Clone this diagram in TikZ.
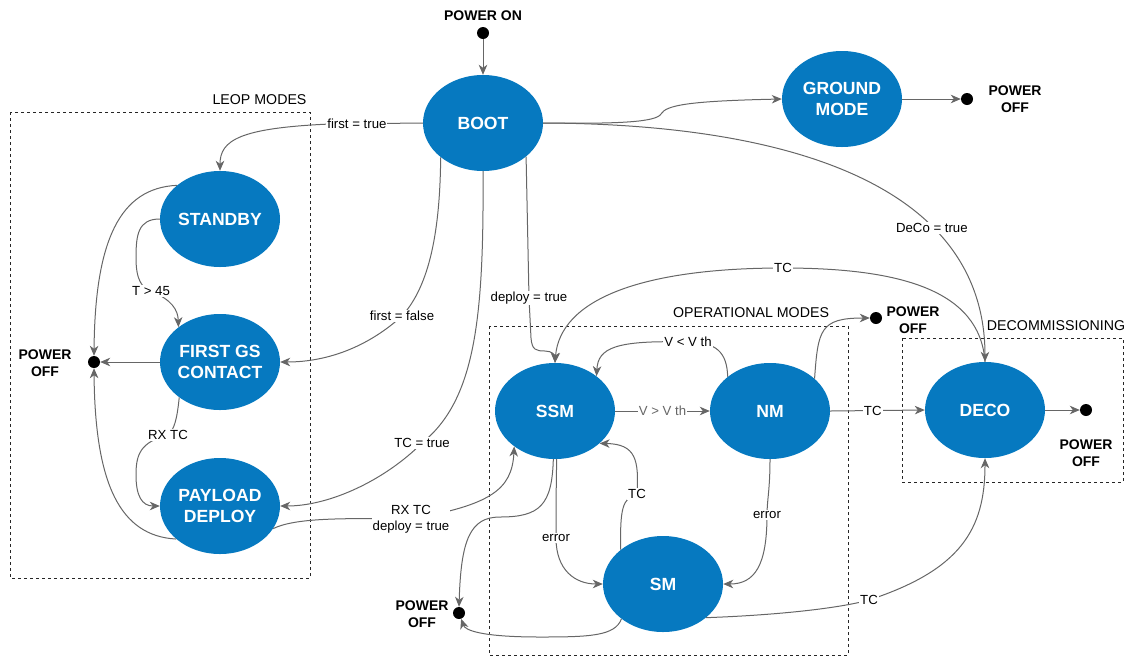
\documentclass[tikz,border=0pt]{standalone}
\usepackage{fontspec}
\setmainfont{Liberation Sans}
\usetikzlibrary{shapes.geometric,arrows.meta}
\definecolor{modeblue}{HTML}{0679C0}
\definecolor{wire}{HTML}{666666}
\begin{document}
\begin{tikzpicture}[x=1pt,y=-1pt,
  mode/.style={ellipse, fill=modeblue, minimum width=120pt, minimum height=96pt,
    inner sep=0pt, text=white, align=center,
    font=\fontsize{17.6}{21}\selectfont\bfseries},
  dot/.style={circle, fill=black, minimum size=12pt, inner sep=0pt},
  plabel/.style={font=\fontsize{14}{16.5}\selectfont\bfseries, align=center},
  group/.style={draw=black!85, dash pattern=on 3pt off 3pt, line width=1pt},
  glabel/.style={font=\fontsize{14.2}{16}\selectfont},
  edge/.style={draw=wire, line width=1pt,
    -{Stealth[length=10pt,width=8.5pt,inset=3pt]}},
  lbl/.style={font=\fontsize{13.2}{15.5}\selectfont, fill=white, inner sep=1pt,
    align=center, text=black},
]
\useasboundingbox (0,0) rectangle (1129,657);

% mode groups
\draw[group] (10,112) rectangle (310,578);
\node[glabel, anchor=east] (leoplbl) at (310,100) {LEOP MODES};
\draw[group] (489,326) rectangle (848,655);
\node[glabel] (oplbl) at (751,313) {OPERATIONAL MODES};
\draw[group] (902,338) rectangle (1123,482);
\node[glabel] (decolbl) at (1056,326) {DECOMMISSIONING};

% states
\node[mode] (boot)    at (483,123) {BOOT};
\node[mode] (ground)  at (842,99)  {GROUND\\MODE};
\node[mode] (standby) at (220,219) {STANDBY};
\node[mode] (firstgs) at (220,362) {FIRST GS\\CONTACT};
\node[mode] (payload) at (220,506) {PAYLOAD\\DEPLOY};
\node[mode] (ssm)     at (555,411) {SSM};
\node[mode] (nm)      at (770,411) {NM};
\node[mode] (sm)      at (663,584) {SM};
\node[mode] (deco)    at (985,410) {DECO};

% pseudo states
\node[dot] (poweron) at (483,33) {};
\node[plabel] (poweronlbl) at (483,16) {POWER ON};
\node[dot] (poff1) at (967,99) {};
\node[plabel] (poff1lbl) at (1015,99) {POWER\\OFF};
\node[dot] (poff2) at (94,362) {};
\node[plabel] (poff2lbl) at (45,363) {POWER\\OFF};
\node[dot] (poff3) at (876,318) {};
\node[plabel] (poff3lbl) at (913,320) {POWER\\OFF};
\node[dot] (poff4) at (1086,410) {};
\node[plabel] (poff4lbl) at (1086,453) {POWER\\OFF};
\node[dot] (poff5) at (459,613) {};
\node[plabel] (poff5lbl) at (422,614) {POWER\\OFF};

% start-up
\draw[edge] (poweron) -- (boot.north);
\draw[edge] (boot.east) .. controls (620,124) and (656,122) .. (661,114)
  .. controls (666,105) and (690,101) .. (ground.west);
\draw[edge] (ground.east) -- (poff1.west);

% boot decisions
\draw[edge] (boot.west) -- node[lbl, pos=0.71]{first = true} (330,124)
  .. controls (240,128) and (220,140) .. (standby.north);
\draw[edge] (boot.219) .. controls (440,230) and (430,285) .. (402,316)
  node[lbl]{first = false}
  .. controls (370,345) and (330,362) .. (firstgs.east);
\draw[edge] (boot.south) .. controls (484,320) and (475,400) .. (422,443)
  node[lbl]{TC = true}
  .. controls (385,480) and (330,506) .. (payload.east);
\draw[edge] (boot.322) -- (529,298) node[lbl]{deploy = true} -- (531,338)
  .. controls (532,350) and (536,351) .. (545,351)
  .. controls (552,351) and (555,355) .. (ssm.north);
\draw[edge] (boot.east) .. controls (800,124) and (985,190) .. (deco.north)
  node[lbl, pos=0.68]{DeCo = true};

% LEOP modes
\draw[edge] (standby.west) .. controls (138,219) and (136,235) .. (136,258)
  .. controls (136,280) and (142,288) .. (151,291) node[lbl]{T > 45}
  .. controls (172,300) and (178,310) .. (firstgs.140);
\draw[edge] (firstgs.221) .. controls (177,420) and (174,430) .. (168,435)
  node[lbl]{RX TC}
  .. controls (140,442) and (136,455) .. (136,475)
  .. controls (136,496) and (142,506) .. (payload.west);
\draw[edge] (standby.142) .. controls (120,188) and (95,240) .. (poff2.north);
\draw[edge] (payload.217) .. controls (120,536) and (95,484) .. (poff2.south);
\draw[edge] (firstgs.west) -- (poff2.east);
\draw[edge] (payload.337) .. controls (295,518) and (340,518) .. (411,519)
  node[lbl]{RX TC\\deploy = true}
  .. controls (490,505) and (512,490) .. (ssm.221);

% operational modes
\draw[edge] (ssm.east) -- node[lbl, text=wire]{V > V th} (nm.west);
\draw[edge] (nm.141) .. controls (727,352) and (716,342) .. (688,342)
  node[lbl]{V < V th}
  .. controls (615,340) and (598,348) .. (ssm.40);
\draw[edge] (nm.36) .. controls (818,330) and (820,318) .. (poff3.west);
\draw[edge] (nm.east) -- node[lbl, pos=0.45]{TC} (deco.west);
\draw[edge] (ssm.272) .. controls (556,495) and (556,520) .. (556,538)
  node[lbl]{error}
  .. controls (556,570) and (575,584) .. (sm.west);
\draw[edge] (sm.141) .. controls (620,510) and (622,498) .. (637,494)
  node[lbl]{TC}
  .. controls (639,460) and (636,444) .. (ssm.-36);
\draw[edge] (nm.south) .. controls (770,490) and (767,500) .. (767,515)
  node[lbl]{error}
  .. controls (767,565) and (755,584) .. (sm.east);
\draw[edge] (ssm.268) .. controls (552,505) and (540,517) .. (500,517)
  .. controls (470,517) and (461,540) .. (poff5.north);
\draw[edge] (sm.220) .. controls (615,636) and (590,637) .. (540,637)
  .. controls (480,637) and (465,630) .. (poff5.-70);

% decommissioning
\draw[edge] (deco.north) .. controls (980,290) and (900,268) .. (783,268)
  node[lbl]{TC}
  .. controls (640,268) and (560,300) .. (ssm.north);
\draw[edge] (sm.322) .. controls (780,615) and (840,608) .. (869,600)
  node[lbl]{TC}
  .. controls (960,570) and (985,530) .. (deco.south);
\draw[edge] (deco.east) -- (poff4.west);
\end{tikzpicture}
\end{document}
